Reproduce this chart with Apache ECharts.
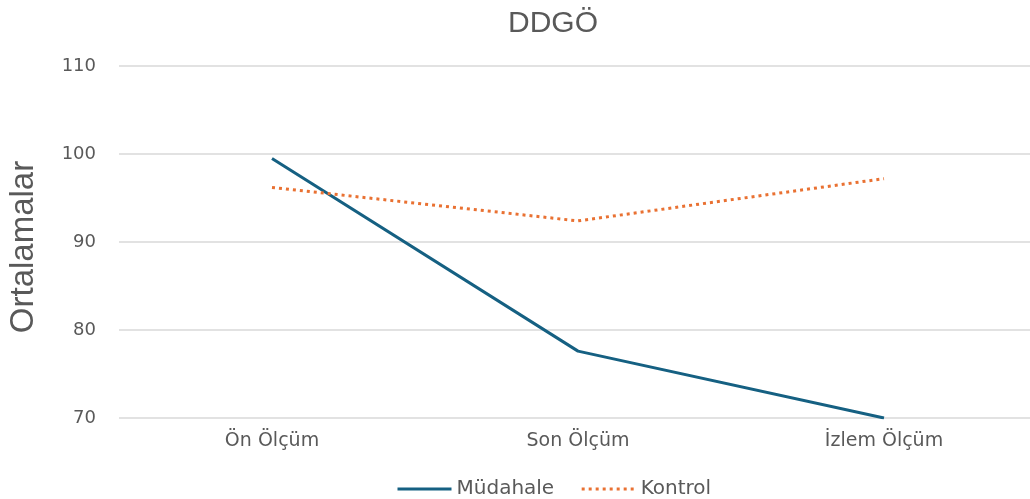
<!DOCTYPE html>
<html lang="tr">
<head>
    <meta charset="UTF-8">
    <title>DDGÖ</title>
    <script src="https://cdn.jsdelivr.net/npm/echarts@6/dist/echarts.min.js"></script>
    <style>
        html, body { margin: 0; padding: 0; background: #fff; }
        #chart { width: 1030px; height: 499px; }
    </style>
</head>
<body>
<div id="chart"></div>
<script>
    const categories = ['Ön Ölçüm', 'Son Ölçüm', 'İzlem Ölçüm'];
    const mudahale = [99.5, 77.6, 70.0];
    const kontrol = [96.2, 92.4, 97.2];

    const gray = '#595959';
    const chart = echarts.init(document.getElementById('chart'));
    chart.setOption({
        animation: false,
        title: {
            text: 'DDGÖ',
            left: 503,
            top: 4,
            textStyle: { fontFamily: 'Liberation Sans', fontSize: 30, fontWeight: 'normal', color: gray }
        },
        legend: {
            top: 474,
            left: 391,
            itemWidth: 54,
            itemHeight: 12,
            itemGap: 26,
            itemStyle: { opacity: 0 },
            lineStyle: { width: 3 },
            textStyle: { fontFamily: 'DejaVu Sans', fontSize: 20, color: gray },
            data: ['Müdahale', 'Kontrol']
        },
        grid: { left: 119, right: -7, top: 66, bottom: 81, outerBoundsMode: 'none' },
        xAxis: {
            type: 'category',
            data: categories,
            axisLine: { show: false },
            axisTick: { show: false },
            axisLabel: { fontFamily: 'DejaVu Sans', fontSize: 19, color: gray, margin: 14 }
        },
        yAxis: {
            type: 'value',
            min: 70,
            max: 110,
            interval: 10,
            name: 'Ortalamalar',
            nameLocation: 'middle',
            nameGap: 79,
            nameTextStyle: { fontFamily: 'Liberation Sans', fontSize: 33, color: gray, padding: [0, 10, 0, 0] },
            axisLabel: { fontFamily: 'DejaVu Sans', fontSize: 18, color: gray, margin: 23 },
            splitLine: { lineStyle: { color: '#d9d9d9', width: 1.5 } }
        },
        series: [
            {
                name: 'Müdahale',
                type: 'line',
                data: mudahale,
                symbol: 'none',
                itemStyle: { color: '#156082' },
                lineStyle: { color: '#156082', width: 3 }
            },
            {
                name: 'Kontrol',
                type: 'line',
                data: kontrol,
                symbol: 'none',
                itemStyle: { color: '#E97132' },
                lineStyle: { color: '#E97132', width: 3, type: [3, 4] }
            }
        ]
    });
</script>
</body>
</html>
